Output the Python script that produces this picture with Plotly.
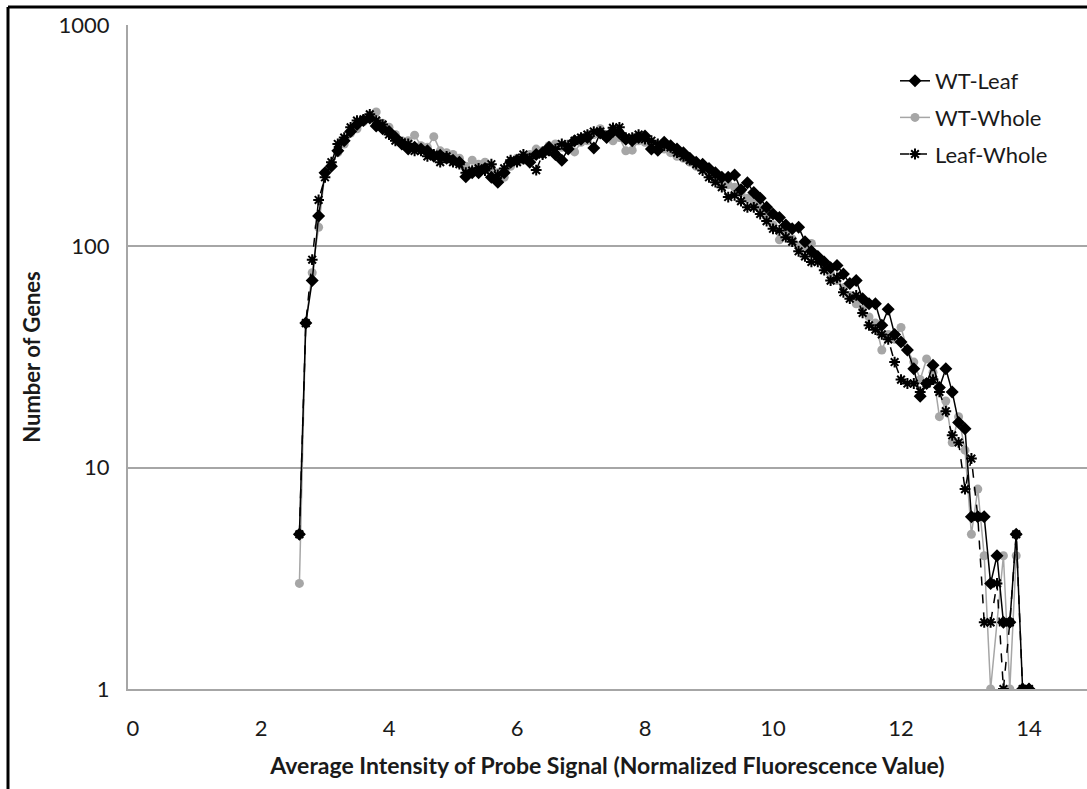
import plotly.graph_objects as go

x_vals = [round(2.6 + 0.1 * i, 1) for i in range(115)]

wt_leaf = [5, 45, 70, 137, 215, 230, 270, 300, 330, 355,
           370, 380, 350, 340, 330, 310, 290, 275, 280, 275,
           270, 255, 258, 250, 245, 240, 206, 215, 215, 225,
           205, 195, 215, 240, 245, 250, 240, 260, 265, 280,
           260, 245, 275, 300, 305, 310, 278, 325, 310, 330,
           325, 305, 300, 310, 315, 275, 272, 295, 285, 275,
           265, 250, 240, 235, 225, 215, 205, 205, 210, 180,
           194, 175, 165, 150, 140, 135, 125, 120, 122, 105,
           95, 90, 85, 80, 82, 75, 68, 70, 58, 55,
           55, 44, 52, 40, 37, 34, 28, 21, 24, 29,
           23, 28, 22, 16, 15, 6, 6, 6, 3, 4,
           2, 2, 5, 1, 1]

wt_whole = [3, 45, 76, 122, 215, 235, 265, 290, 325, 340,
            365, 390, 405, 360, 345, 320, 300, 300, 318, 285,
            280, 313, 270, 265, 260, 250, 230, 245, 235, 240,
            225, 215, 205, 230, 250, 245, 260, 275, 270, 285,
            290, 280, 290, 267, 295, 300, 320, 340, 320, 300,
            310, 270, 272, 300, 295, 290, 280, 275, 265, 255,
            250, 240, 230, 225, 215, 205, 200, 190, 185, 175,
            165, 160, 150, 140, 125, 107, 115, 108, 100, 98,
            103, 88, 80, 75, 70, 65, 60, 55, 52, 48,
            45, 34, 40, 38, 43, 34, 30, 25, 31, 27,
            17, 20, 13, 17, 12, 5, 8, 4, 1, None,
            4, 1, 4, None, None]

leaf_whole = [5, 45, 87, 162, 205, 240, 290, 310, 345, 370,
              375, 395, 370, 355, 320, 300, 295, 290, 270, 270,
              255, 260, 240, 255, 240, 235, 215, 220, 225, 220,
              235, 210, 225, 245, 240, 260, 250, 221, 260, 270,
              275, 290, 285, 300, 310, 320, 330, 330, 315, 343,
              345, 310, 310, 320, 305, 300, 290, 285, 280, 265,
              255, 245, 235, 220, 205, 195, 185, 167, 170, 160,
              150, 150, 140, 130, 120, 118, 110, 105, 95, 90,
              85, 85, 78, 70, 72, 62, 58, 60, 50, 44,
              42, 40, 38, 30, 25, 24, 24, 22, 24, 25,
              22, 18, 14, 13, 8, 11, 6, 2, 2, 3,
              1, 2, 5, 1, 1]

x_ticks = [0, 2, 4, 6, 8, 10, 12, 14]
y_ticks = [1, 10, 100, 1000]

FONT = "Lato"
TXT = "#1a1a1a"
W, H = 1087, 789
L, R, T, B = 128, 0, 25, 100

fig = go.Figure()

fig.add_trace(go.Scatter(
    x=x_vals, y=wt_whole, name="WT-Whole", mode="lines+markers",
    line=dict(color="#a6a6a6", width=1.5),
    marker=dict(symbol="circle", size=9, color="#a6a6a6"),
    connectgaps=True, legendrank=2, legendgroup="b"))

fig.add_trace(go.Scatter(
    x=x_vals, y=wt_leaf, name="WT-Leaf", mode="lines+markers",
    line=dict(color="black", width=1.5),
    marker=dict(symbol="diamond", size=10, color="black"),
    legendrank=1, legendgroup="a"))

fig.add_trace(go.Scatter(
    x=x_vals, y=leaf_whole, name="Leaf-Whole", mode="lines+markers",
    line=dict(color="black", width=1.5, dash="dash"),
    marker=dict(symbol="asterisk-open", size=9, color="black",
                line=dict(color="black", width=2)),
    legendrank=3, legendgroup="c"))

pw = W - L - R
ph = H - T - B

def px2paper_x(px):
    return (px - L) / pw

def py2paper_y(py):
    return (H - B - py) / ph

fig.update_layout(
    width=W, height=H,
    margin=dict(l=L, r=R, t=T, b=B, pad=0),
    paper_bgcolor="white", plot_bgcolor="white",
    font=dict(family=FONT, color=TXT, size=22),
    showlegend=True,
    legend=dict(x=px2paper_x(895), y=py2paper_y(60), xanchor="left", yanchor="top",
                font=dict(family=FONT, size=22, color=TXT),
                bgcolor="rgba(0,0,0,0)", tracegroupgap=5, itemwidth=30),
    xaxis=dict(range=[-0.078, 14.906], tickvals=x_ticks, showgrid=False,
               zeroline=False, showline=True, linecolor="#a6a6a6", linewidth=2,
               ticks="", ticklabelstandoff=19,
               tickfont=dict(family=FONT, size=22, color=TXT),
               title=dict(text="<b>Average Intensity of Probe Signal (Normalized Fluorescence Value)</b>",
                          font=dict(family=FONT, size=23, color=TXT), standoff=17)),
    yaxis=dict(type="log", range=[0, 3], tickvals=y_ticks, ticktext=["1", "10", "100", "1000"],
               showgrid=True, gridcolor="#a6a6a6", gridwidth=1.5,
               zeroline=False, showline=True, linecolor="#a6a6a6", linewidth=2,
               ticks="", ticklabelstandoff=12,
               tickfont=dict(family=FONT, size=22, color=TXT),
               title=dict(text="<b>Number of Genes</b>",
                          font=dict(family=FONT, size=22, color=TXT), standoff=12)),
    shapes=[
        dict(type="line", xref="paper", yref="paper",
             x0=px2paper_x(8), x1=px2paper_x(8), y0=py2paper_y(7), y1=py2paper_y(792),
             line=dict(color="black", width=3)),
        dict(type="line", xref="paper", yref="paper",
             x0=px2paper_x(8), x1=px2paper_x(1090), y0=py2paper_y(7), y1=py2paper_y(7),
             line=dict(color="black", width=3)),
    ],
)

fig.write_html("out.html")
